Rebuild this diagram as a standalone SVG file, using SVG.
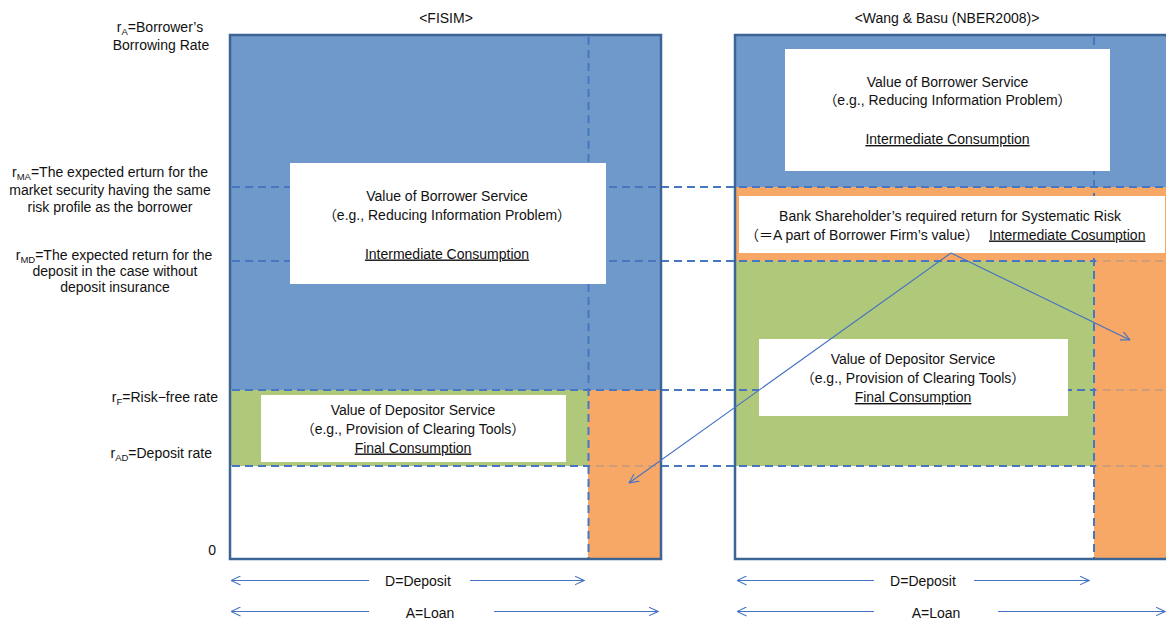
<svg xmlns="http://www.w3.org/2000/svg" width="1166" height="621" viewBox="0 0 1166 621">
<defs>
<style>
text{font-family:"Liberation Sans","Noto Sans CJK JP",sans-serif;font-size:14px;fill:#111;}
.m{text-anchor:middle;}
.e{text-anchor:end;}
.u{text-decoration:underline;}
.sub{font-size:9.5px;}
.blue{fill:#7099CB;}
.green{fill:#B0C87A;}
.orange{fill:#F7A867;}
.wbox{fill:#FFFFFF;}
.guide{stroke:#4677C0;stroke-width:2;stroke-dasharray:8 5;fill:none;}
.ov{fill:#F7A867;fill-opacity:0.78;}
.frame{fill:none;stroke:#3C6494;stroke-width:2.5;}
.conn{stroke:#4472C4;stroke-width:1.1;fill:none;marker-end:url(#ah);}
</style>
<marker id="ah" viewBox="0 0 10 10" refX="9.5" refY="5" markerWidth="10" markerHeight="10" markerUnits="userSpaceOnUse" orient="auto">
<path d="M0,0.5 L9.5,5 L0,9.5" fill="none" stroke="#4472C4" stroke-width="1.1"/>
</marker>
</defs>
<rect width="1166" height="621" fill="#FFFFFF"/>

<g id="fisim-panel">
<rect class="blue" x="230" y="35" width="431" height="355"/>
<rect class="green" x="230" y="390" width="358" height="76"/>
<rect class="orange" x="588" y="390" width="73" height="169"/>
</g>
<g id="wang-panel">
<rect class="blue" x="735" y="35" width="431" height="152"/>
<rect class="orange" x="735" y="187" width="431" height="74"/>
<rect class="green" x="735" y="261" width="359" height="205"/>
<rect class="orange" x="1094" y="261" width="72" height="298"/>
</g>

<g id="guides">
<line class="guide" x1="232" y1="187" x2="1166" y2="187"/>
<line class="guide" x1="232" y1="261" x2="1166" y2="261"/>
<line class="guide" x1="232" y1="390" x2="1166" y2="390"/>
<line class="guide" x1="232" y1="466" x2="1166" y2="466"/>
<line class="guide" x1="588.5" y1="37" x2="588.5" y2="558"/>
<line class="guide" x1="1094" y1="37" x2="1094" y2="558"/>
<rect class="ov" x="590" y="392" width="70" height="166"/>
<rect class="ov" x="1096" y="189" width="70" height="370"/>
</g>

<g id="frames">
<rect class="frame" x="230" y="35" width="431" height="524"/>
<path class="frame" d="M1168,35 H735 V559 H1168"/>
</g>

<g id="titles">
<text class="m" x="446" y="22.5">&lt;FISIM&gt;</text>
<text class="m" x="947" y="22.5">&lt;Wang &amp; Basu (NBER2008)&gt;</text>
</g>

<g id="axis-labels">
<text class="m" x="160" y="31.5">r<tspan class="sub" dy="3">A</tspan><tspan dy="-3">=Borrower’s</tspan></text>
<text class="m" x="161" y="49.5">Borrowing Rate</text>
<text class="m" x="110" y="177">r<tspan class="sub" dy="3">MA</tspan><tspan dy="-3">=The expected erturn for the</tspan></text>
<text class="m" x="110" y="194.5">market security having the same</text>
<text class="m" x="110" y="211.5">risk profile as the borrower</text>
<text class="m" x="114" y="259.5">r<tspan class="sub" dy="3">MD</tspan><tspan dy="-3">=The expected return for the</tspan></text>
<text class="m" x="115" y="276">deposit in the case without</text>
<text class="m" x="115" y="292">deposit insurance</text>
<text class="e" x="218" y="401.5">r<tspan class="sub" dy="3">F</tspan><tspan dy="-3">=Risk−free rate</tspan></text>
<text class="e" x="212" y="457.5">r<tspan class="sub" dy="3">AD</tspan><tspan dy="-3">=Deposit rate</tspan></text>
<text class="e" x="216" y="554.5">0</text>
</g>

<g id="fisim-borrower-service">
<rect class="wbox" x="290" y="163" width="316" height="121"/>
<text class="m" x="447" y="201">Value of Borrower Service</text>
<text class="m" x="447" y="219.5">（e.g., Reducing Information Problem）</text>
<text class="m u" x="447" y="258.5">Intermediate Consumption</text>
</g>

<g id="fisim-depositor-service">
<rect class="wbox" x="261" y="395" width="305" height="67"/>
<text class="m" x="413" y="414.5">Value of Depositor Service</text>
<text class="m" x="413" y="433.5">（e.g., Provision of Clearing Tools）</text>
<text class="m u" x="413" y="452.5">Final Consumption</text>
</g>

<g id="wang-borrower-service">
<rect class="wbox" x="785" y="49" width="325" height="122"/>
<text class="m" x="947.5" y="86.5">Value of Borrower Service</text>
<text class="m" x="947.5" y="105">（e.g., Reducing Information Problem）</text>
<text class="m u" x="947.5" y="144">Intermediate Consumption</text>
</g>

<g id="wang-shareholder-return">
<rect class="wbox" x="739" y="196" width="426" height="57"/>
<text class="m" x="950" y="221">Bank Shareholder’s required return for Systematic Risk</text>
<text class="e" x="979" y="239.5">（＝A part of Borrower Firm’s value）</text>
<text class="u" x="989" y="239.5">Intermediate Cosumption</text>
</g>

<g id="wang-depositor-service">
<rect class="wbox" x="759" y="339" width="309" height="77"/>
<text class="m" x="913" y="364">Value of Depositor Service</text>
<text class="m" x="913" y="383">（e.g., Provision of Clearing Tools）</text>
<text class="m u" x="913" y="402">Final Consumption</text>
</g>

<g id="connectors">
<line class="conn" x1="951" y1="253" x2="629" y2="483"/>
<line class="conn" x1="951" y1="253" x2="1130" y2="340"/>
<line class="conn" x1="369" y1="580.5" x2="231" y2="580.5"/>
<line class="conn" x1="470" y1="580.5" x2="584" y2="580.5"/>
<line class="conn" x1="369" y1="611.5" x2="231" y2="611.5"/>
<line class="conn" x1="494" y1="611.5" x2="658" y2="611.5"/>
<line class="conn" x1="874" y1="580.5" x2="737" y2="580.5"/>
<line class="conn" x1="974" y1="580.5" x2="1089" y2="580.5"/>
<line class="conn" x1="874" y1="611.5" x2="737" y2="611.5"/>
<line class="conn" x1="998" y1="611.5" x2="1165" y2="611.5"/>
</g>

<g id="dimension-labels">
<text class="m" x="418" y="586">D=Deposit</text>
<text class="m" x="430" y="618">A=Loan</text>
<text class="m" x="923" y="586">D=Deposit</text>
<text class="m" x="936" y="618">A=Loan</text>
</g>
</svg>
